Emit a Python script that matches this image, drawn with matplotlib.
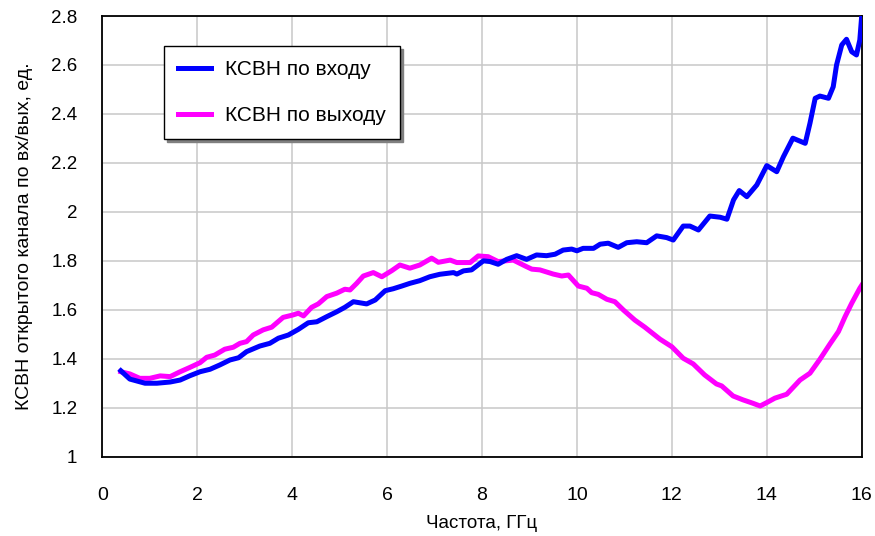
import numpy as np
from matplotlib import pyplot as plt

plt.rcParams['font.family'] = ['Liberation Sans Narrow', 'Liberation Sans', 'DejaVu Sans']

# КСВН по входу (частота, ГГц / значение)
f_in = [0.39, 0.58, 0.90, 1.15, 1.43, 1.64, 1.85, 2.06, 2.27, 2.48, 2.69, 2.87,
        3.04, 3.32, 3.53, 3.71, 3.92, 4.13, 4.34, 4.52, 4.73, 4.94, 5.11, 5.29,
        5.57, 5.75, 5.96, 6.13, 6.31, 6.48, 6.69, 6.90, 7.11, 7.40, 7.47, 7.61,
        7.78, 8.03, 8.17, 8.34, 8.52, 8.73, 8.94, 9.15, 9.36, 9.54, 9.71, 9.89,
        10.0, 10.13, 10.35, 10.49, 10.66, 10.87, 11.05, 11.26, 11.47, 11.68, 11.89,
        12.03, 12.24, 12.38, 12.56, 12.80, 13.02, 13.16, 13.30, 13.42, 13.58, 13.79,
        14.0, 14.21, 14.35, 14.55, 14.81, 14.91, 15.02, 15.12, 15.30, 15.40, 15.47,
        15.58, 15.68, 15.79, 15.89, 15.96, 16.0]
vswr_in = [1.351, 1.317, 1.300, 1.300, 1.305, 1.313, 1.331, 1.347, 1.357, 1.375, 1.395, 1.404,
           1.429, 1.452, 1.463, 1.484, 1.497, 1.520, 1.547, 1.551, 1.572, 1.592, 1.610, 1.633,
           1.624, 1.640, 1.678, 1.686, 1.697, 1.708, 1.719, 1.735, 1.745, 1.752, 1.746, 1.759,
           1.763, 1.800, 1.797, 1.786, 1.806, 1.821, 1.806, 1.824, 1.821, 1.827, 1.844, 1.848,
           1.841, 1.851, 1.851, 1.868, 1.872, 1.855, 1.874, 1.878, 1.874, 1.902, 1.895,
           1.885, 1.942, 1.942, 1.926, 1.983, 1.978, 1.970, 2.049, 2.087, 2.062, 2.110,
           2.189, 2.164, 2.225, 2.301, 2.280, 2.362, 2.464, 2.473, 2.464, 2.511, 2.600,
           2.682, 2.705, 2.654, 2.641, 2.702, 2.80]

# КСВН по выходу
f_out = [0.39, 0.58, 0.79, 1.0, 1.22, 1.43, 1.64, 1.85, 2.06, 2.20, 2.37, 2.58,
         2.76, 2.90, 3.04, 3.18, 3.39, 3.57, 3.81, 4.02, 4.13, 4.24, 4.41, 4.55,
         4.73, 4.94, 5.11, 5.22, 5.36, 5.50, 5.71, 5.89, 6.10, 6.27, 6.48, 6.69,
         6.94, 7.08, 7.33, 7.47, 7.75, 7.92, 8.13, 8.34, 8.66, 8.94, 9.05, 9.22,
         9.50, 9.68, 9.82, 10.03, 10.21, 10.31, 10.45, 10.63, 10.80, 10.98, 11.22,
         11.43, 11.75, 12.0, 12.24, 12.45, 12.69, 12.94, 13.05, 13.29, 13.50, 13.71,
         13.86, 14.0, 14.17, 14.42, 14.70, 14.91, 15.12, 15.33, 15.51, 15.65, 15.79,
         15.96, 16.0]
vswr_out = [1.347, 1.338, 1.320, 1.320, 1.330, 1.327, 1.347, 1.365, 1.384, 1.406, 1.415, 1.439,
            1.447, 1.463, 1.470, 1.497, 1.518, 1.529, 1.569, 1.579, 1.586, 1.575, 1.610, 1.624,
            1.654, 1.668, 1.684, 1.681, 1.708, 1.738, 1.752, 1.735, 1.760, 1.783, 1.770, 1.783,
            1.811, 1.794, 1.803, 1.793, 1.793, 1.820, 1.817, 1.797, 1.803, 1.776, 1.766, 1.763,
            1.746, 1.738, 1.742, 1.697, 1.688, 1.670, 1.663, 1.643, 1.633, 1.599, 1.558,
            1.529, 1.480, 1.449, 1.402, 1.379, 1.334, 1.297, 1.289, 1.248, 1.232, 1.218,
            1.207, 1.221, 1.239, 1.255, 1.313, 1.341, 1.398, 1.460, 1.511, 1.572, 1.627,
            1.688, 1.700]

x_ticks = [0, 2, 4, 6, 8, 10, 12, 14, 16]
y_ticks = [1, 1.2, 1.4, 1.6, 1.8, 2, 2.2, 2.4, 2.6, 2.8]
y_labels = ['1', '1.2', '1.4', '1.6', '1.8', '2', '2.2', '2.4', '2.6', '2.8']

fig = plt.figure(figsize=(8.75, 5.36), dpi=100)
ax = fig.add_axes([0.1169, 0.148, 0.8679, 0.8221])

ax.plot(f_in, vswr_in, color='#0000ff', lw=3.6, label='КСВН по входу', zorder=3)
ax.plot(f_out, vswr_out, color='#ff00ff', lw=3.6, label='КСВН по выходу', zorder=2)

ax.set_xlim(0, 16)
ax.set_ylim(1, 2.8)
ax.set_xticks(x_ticks)
ax.set_yticks(y_ticks)
ax.set_yticklabels(y_labels)
ax.tick_params(axis='x', length=0, pad=22, labelsize=14)
ax.tick_params(axis='y', length=0, pad=18, labelsize=13.5)
ax.grid(True, color='#c8c8c8', lw=1.1)
ax.set_axisbelow(True)
for s in ax.spines.values():
    s.set_color('black')
    s.set_linewidth(1.3)

ax.set_xlabel('Частота, ГГц', fontsize=13.5, labelpad=8)
ax.set_ylabel('КСВН открытого канала по вх/вых, ед.', fontsize=14, labelpad=13)

leg = ax.legend(loc='upper left', bbox_to_anchor=(0.081, 0.932), borderaxespad=0,
                fancybox=False, shadow={'color': '#808080', 'alpha': 1},
                fontsize=15, handlelength=1.6, handletextpad=0.67,
                labelspacing=1.3, borderpad=0.68, framealpha=1)
leg.get_frame().set_edgecolor('black')
leg.get_frame().set_linewidth(1.0)

fig.savefig('out.png', dpi=100)
